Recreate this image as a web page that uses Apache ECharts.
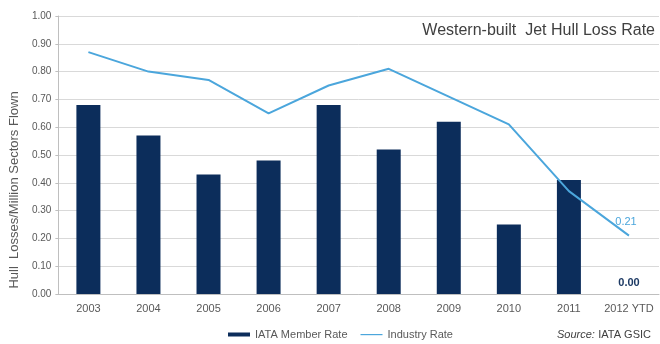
<!DOCTYPE html>
<html>
<head>
<meta charset="utf-8">
<script src="https://cdn.jsdelivr.net/npm/echarts@6/dist/echarts.min.js"></script>
<style>
  html, body { margin: 0; padding: 0; background: #fff; }
  #chart { width: 660px; height: 344px; }
</style>
</head>
<body>
<div id="chart"></div>
<script>
// values
var years = ['2003', '2004', '2005', '2006', '2007', '2008', '2009', '2010', '2011', '2012 YTD']
var memberRate = [0.68, 0.57, 0.43, 0.48, 0.68, 0.52, 0.62, 0.25, 0.41, 0.00]
var industryRate = [0.87, 0.80, 0.77, 0.65, 0.75, 0.81, 0.71, 0.61, 0.37, 0.21]

var barColor = '#0c2d5b'
var lineColor = '#4ba6dc'
var textColor = '#595959'
var last = years.length - 1

var chart = echarts.init(document.getElementById('chart'))

// only the last point of each series carries a label
let barData = memberRate.map((v, i) => i !== last ? v : {
  value: v,
  label: {
    show: true,
    position: 'top',
    distance: 6,
    formatter: p => p.value.toFixed(2),
    color: '#1d3a64',
    fontWeight: 'bold',
    fontSize: 11,
    fontFamily: 'Liberation Sans'
  }
})
let lineData = industryRate.map((v, i) => i !== last ? v : {
  value: v,
  label: {
    show: true,
    position: 'top',
    distance: 8,
    offset: [-3, 0],
    formatter: p => p.value.toFixed(2),
    color: lineColor,
    fontSize: 11,
    fontFamily: 'Liberation Sans'
  }
})

chart.setOption({
  animation: false,
  textStyle: { fontFamily: 'Liberation Sans' },
  title: {
    text: 'Western-built  Jet Hull Loss Rate',
    right: 5,
    top: 23,
    padding: 0,
    textStyle: { fontSize: 16, fontWeight: 'normal', color: '#404040' }
  },
  grid: { left: 58, right: 1, top: 16, bottom: 50 },
  legend: {
    left: 223,
    top: 324,
    itemWidth: 22,
    itemHeight: 4,
    itemGap: 13,
    textStyle: { fontSize: 11, color: textColor },
    data: [
      { name: 'IATA Member Rate', icon: 'rect' },
      // thin line icon, the bare moves keep the 4px box
      { name: 'Industry Rate', icon: 'path://M0,0M0,1.5h22v1.2h-22zM0,4' }
    ]
  },
  graphic: [{
    type: 'text',
    left: 557,
    top: 329,
    style: {
      rich: {
        i: { fontStyle: 'italic', fontSize: 11, fill: '#404040', fontFamily: 'Liberation Sans' },
        n: { fontSize: 11, fill: '#404040', fontFamily: 'Liberation Sans' }
      },
      text: '{i|Source:} {n|IATA GSIC}'
    }
  }],
  xAxis: {
    type: 'category',
    data: years,
    boundaryGap: true,
    axisLine: { lineStyle: { color: '#bfbfbf' } },
    axisTick: { show: false },
    axisLabel: { color: textColor, fontSize: 11, margin: 9, interval: 0 }
  },
  yAxis: {
    type: 'value',
    min: 0,
    max: 1,
    interval: 0.1,
    name: 'Hull  Losses/Million Sectors Flown',
    nameLocation: 'middle',
    nameGap: 36,
    nameTextStyle: { color: textColor, fontSize: 13, padding: [0, 70, 0, 0] },
    axisLine: { show: true, lineStyle: { color: '#bfbfbf' } },
    axisTick: { show: true, length: 3, lineStyle: { color: '#bfbfbf' } },
    axisLabel: { color: textColor, fontSize: 10, margin: 7, formatter: v => v.toFixed(2) },
    splitLine: { lineStyle: { color: '#d9d9d9', width: 1 } }
  },
  series: [
    {
      name: 'IATA Member Rate',
      type: 'bar',
      barWidth: 24,
      itemStyle: { color: barColor },
      data: barData
    },
    {
      name: 'Industry Rate',
      type: 'line',
      symbol: 'circle',
      symbolSize: 0,
      showSymbol: true,
      lineStyle: { color: lineColor, width: 2 },
      itemStyle: { color: lineColor },
      data: lineData
    }
  ]
})
</script>
</body>
</html>
